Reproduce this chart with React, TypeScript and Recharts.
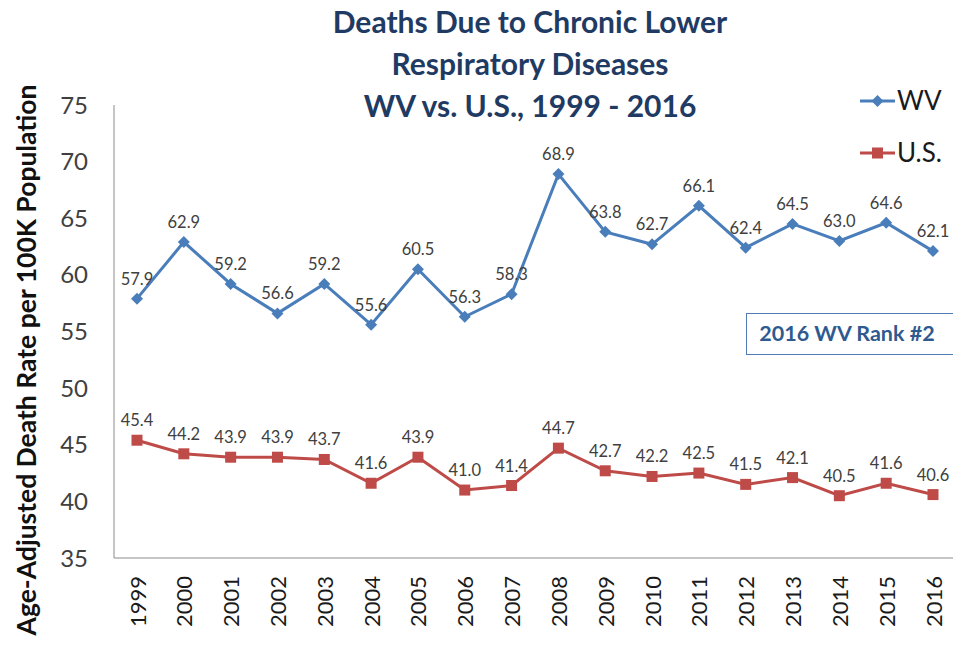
import React from 'react';
import { LineChart, Line, XAxis, YAxis, LabelList } from 'recharts';

const years = ['1999', '2000', '2001', '2002', '2003', '2004', '2005', '2006', '2007', '2008', '2009', '2010', '2011', '2012', '2013', '2014', '2015', '2016'];
const wvRates = [57.9, 62.9, 59.2, 56.6, 59.2, 55.6, 60.5, 56.3, 58.3, 68.9, 63.8, 62.7, 66.1, 62.4, 64.5, 63.0, 64.6, 62.1];
const usRates = [45.4, 44.2, 43.9, 43.9, 43.7, 41.6, 43.9, 41.0, 41.4, 44.7, 42.7, 42.2, 42.5, 41.5, 42.1, 40.5, 41.6, 40.6];
const yTicks = [35, 40, 45, 50, 55, 60, 65, 70, 75];

const data = years.map((year, i) => ({ year, wv: wvRates[i], us: usRates[i] }));

const FONT = 'Lato, "Open Sans", sans-serif';
const BLUE = '#4a7ebb';
const RED = '#be4b48';

const Diamond = (props: any) => {
  const { cx, cy } = props;
  if (cx == null || cy == null) return null;
  return <path d={`M${cx},${cy - 6} L${cx + 6},${cy} L${cx},${cy + 6} L${cx - 6},${cy} Z`} fill={BLUE} />;
};

const Square = (props: any) => {
  const { cx, cy } = props;
  if (cx == null || cy == null) return null;
  return <rect x={cx - 5.5} y={cy - 5.5} width={11} height={11} fill={RED} />;
};

const YearTick = ({ x, y, payload }: any) => (
  <text
    x={x}
    y={y}
    transform={`rotate(-90, ${x}, ${y})`}
    textAnchor="end"
    dominantBaseline="central"
    fontSize={22}
    fill="#1a1a1a"
    fontFamily={FONT}
  >
    {payload.value}
  </text>
);

export default function App() {
  return (
    <div style={{ position: 'absolute', left: 0, top: 0, width: 953, height: 646, overflow: 'hidden', background: '#fff', fontFamily: FONT }}>
      <div style={{ position: 'absolute', left: 310, top: 0, width: 440, textAlign: 'center', color: '#1f3b63', fontWeight: 700, fontSize: 30, lineHeight: '42px' }}>
        Deaths Due to Chronic Lower<br />Respiratory Diseases<br />WV vs. U.S., 1999 - 2016
      </div>
      <LineChart width={960} height={646} data={data} margin={{ top: 105, right: 4, bottom: 0, left: 0 }}>
        <XAxis
          dataKey="year"
          axisLine={{ stroke: '#8c8c8c' }}
          tickLine={false}
          tick={<YearTick />}
          tickMargin={12}
          interval={0}
          height={88}
          padding={{ left: 23, right: 23 }}
        />
        <YAxis
          domain={[35, 75]}
          ticks={yTicks}
          width={114}
          axisLine={{ stroke: '#8c8c8c' }}
          tickLine={false}
          tickSize={0}
          tickMargin={26}
          tick={{ fontSize: 24, fill: '#404040', fontFamily: FONT }}
        />
        <Line dataKey="wv" stroke={BLUE} strokeWidth={3} dot={<Diamond />} activeDot={false} isAnimationActive={false}>
          <LabelList dataKey="wv" position="top" offset={14} formatter={(v: any) => Number(v).toFixed(1)} style={{ fontSize: 16.5, fill: '#404040', fontFamily: FONT }} />
        </Line>
        <Line dataKey="us" stroke={RED} strokeWidth={3} dot={<Square />} activeDot={false} isAnimationActive={false}>
          <LabelList dataKey="us" position="top" offset={14} formatter={(v: any) => Number(v).toFixed(1)} style={{ fontSize: 16.5, fill: '#404040', fontFamily: FONT }} />
        </Line>
      </LineChart>
      <svg style={{ position: 'absolute', left: 0, top: 0 }} width={60} height={646}>
        <text
          x={26}
          y={360}
          transform="rotate(-90, 26, 360)"
          textAnchor="middle"
          dominantBaseline="central"
          fontSize={26.5}
          fontWeight={700}
          fill="#111"
          fontFamily={FONT}
        >
          Age-Adjusted Death Rate per 100K Population
        </text>
      </svg>
      <svg style={{ position: 'absolute', left: 855, top: 85 }} width={98} height={90}>
        <line x1={5} y1={16} x2={40} y2={16} stroke={BLUE} strokeWidth={3} />
        <path d="M22.5,10 L28.5,16 L22.5,22 L16.5,16 Z" fill={BLUE} />
        <text x={42} y={25} fontSize={26} fill="#1a1a1a" fontFamily={FONT}>WV</text>
        <line x1={5} y1={68} x2={40} y2={68} stroke={RED} strokeWidth={3} />
        <rect x={17} y={62.5} width={11} height={11} fill={RED} />
        <text x={42} y={77} fontSize={26} fill="#1a1a1a" fontFamily={FONT}>U.S.</text>
      </svg>
      <div style={{ position: 'absolute', left: 746, top: 313, width: 220, height: 42, border: '1.5px solid #4f7db3', background: '#fff', boxSizing: 'border-box' }}>
        <div style={{ position: 'absolute', left: 0, width: 200, top: 6, textAlign: 'center', color: '#2f5a8f', fontWeight: 700, fontSize: 21.5 }}>
          2016 WV Rank #2
        </div>
      </div>
    </div>
  );
}
